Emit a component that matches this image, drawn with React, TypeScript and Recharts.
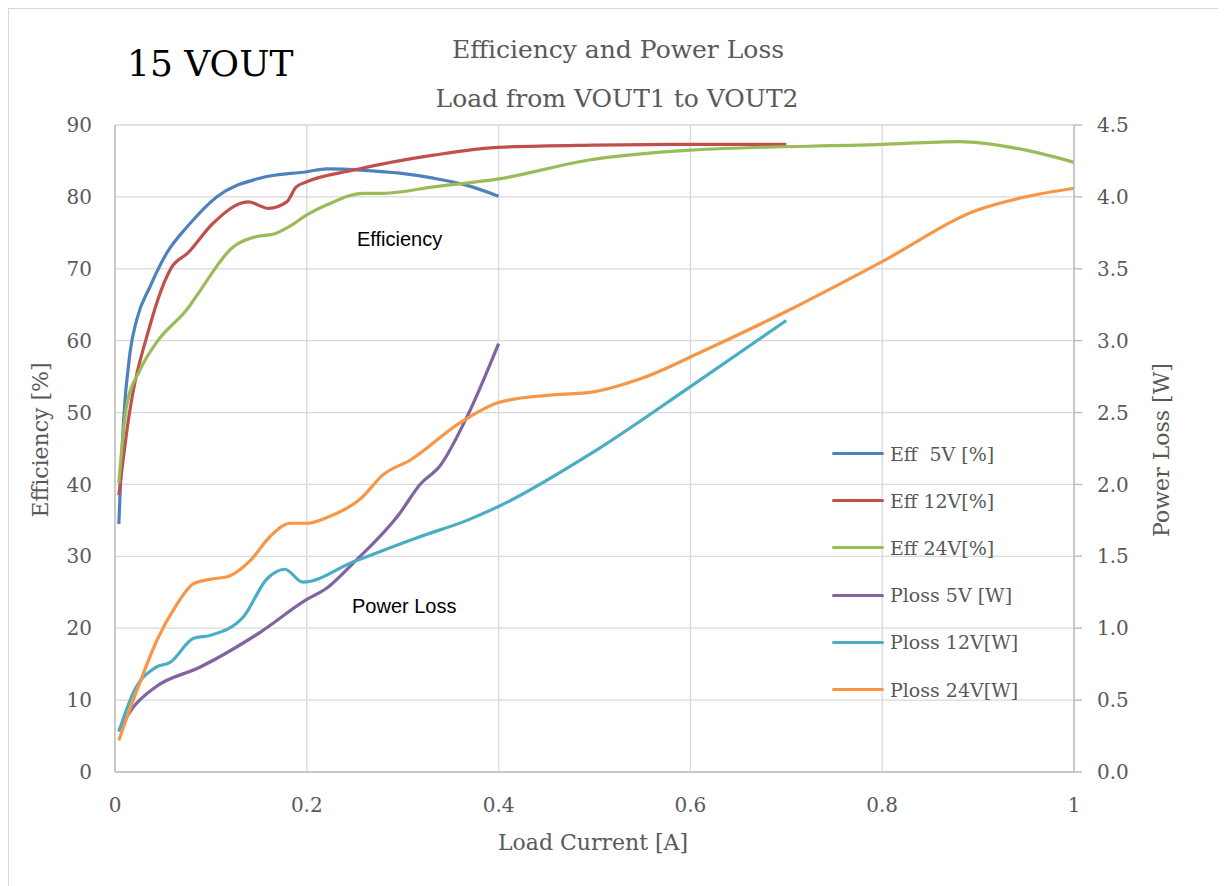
import React from 'react';
import {
  LineChart,
  Line,
  XAxis,
  YAxis,
  CartesianGrid,
} from 'recharts';

// ---------------------------------------------------------------------------
// Data
// ---------------------------------------------------------------------------

const currentTicks = [0, 0.2, 0.4, 0.6, 0.8, 1];
const effTicks = [0, 10, 20, 30, 40, 50, 60, 70, 80, 90];
const lossTicks = [0, 0.5, 1, 1.5, 2, 2.5, 3, 3.5, 4, 4.5];

const eff5Current = [0.004, 0.009, 0.0156, 0.0226, 0.0365, 0.054, 0.075, 0.106, 0.151, 0.2, 0.221, 0.26, 0.297, 0.332, 0.367, 0.4];
const eff5Values = [34.5, 49, 58.3, 62.9, 67.5, 72.2, 75.8, 80, 82.6, 83.5, 83.9, 83.7, 83.3, 82.6, 81.6, 80.1];

const eff12Current = [0.004, 0.014, 0.036, 0.059, 0.076, 0.102, 0.139, 0.16, 0.179, 0.189, 0.2, 0.248, 0.332, 0.4, 0.5, 0.6, 0.7];
const eff12Values = [38.5, 49, 61.9, 70.2, 72.2, 76.3, 79.3, 78.4, 79.3, 81.4, 82.1, 83.7, 85.8, 86.9, 87.2, 87.3, 87.3];

const eff24Current = [0.004, 0.012, 0.026, 0.043, 0.076, 0.089, 0.122, 0.148, 0.165, 0.182, 0.2, 0.221, 0.259, 0.28, 0.332, 0.4, 0.493, 0.6, 0.8, 0.88, 0.95, 1.0];
const eff24Values = [40.2, 50.8, 55.9, 59.7, 64.5, 67, 72.9, 74.5, 74.8, 75.9, 77.5, 78.9, 80.5, 80.5, 81.4, 82.5, 85.1, 86.5, 87.3, 87.7, 86.5, 84.8];

const loss5Current = [0.004, 0.019, 0.042, 0.089, 0.151, 0.2, 0.221, 0.248, 0.297, 0.318, 0.339, 0.367, 0.4];
const loss5Values = [0.29, 0.45, 0.59, 0.73, 0.97, 1.2, 1.28, 1.45, 1.8, 2.0, 2.13, 2.47, 2.98];

const loss12Current = [0.004, 0.019, 0.043, 0.057, 0.082, 0.099, 0.134, 0.158, 0.177, 0.196, 0.248, 0.315, 0.367, 0.401, 0.5, 0.6, 0.7];
const loss12Values = [0.28, 0.55, 0.73, 0.76, 0.93, 0.95, 1.08, 1.34, 1.41, 1.32, 1.46, 1.63, 1.75, 1.85, 2.23, 2.68, 3.14];

const loss24Current = [0.004, 0.023, 0.044, 0.063, 0.082, 0.099, 0.118, 0.141, 0.162, 0.183, 0.2, 0.221, 0.256, 0.28, 0.308, 0.36, 0.4, 0.45, 0.495, 0.55, 0.614, 0.702, 0.8, 0.9, 0.949, 1.0];
const loss24Values = [0.22, 0.57, 0.92, 1.15, 1.31, 1.34, 1.36, 1.47, 1.64, 1.73, 1.73, 1.77, 1.9, 2.07, 2.17, 2.43, 2.57, 2.62, 2.64, 2.74, 2.93, 3.21, 3.55, 3.91, 4.0, 4.06];

const zip = (xs: number[], ys: number[]) => xs.map((x, i) => ({ x, y: ys[i] }));

const SERIES = [
  { name: 'Eff  5V [%]', axis: 'eff', color: '#4F81BD', data: zip(eff5Current, eff5Values) },
  { name: 'Eff 12V[%]', axis: 'eff', color: '#C0504D', data: zip(eff12Current, eff12Values) },
  { name: 'Eff 24V[%]', axis: 'eff', color: '#9BBB59', data: zip(eff24Current, eff24Values) },
  { name: 'Ploss 5V [W]', axis: 'loss', color: '#8064A2', data: zip(loss5Current, loss5Values) },
  { name: 'Ploss 12V[W]', axis: 'loss', color: '#4BACC6', data: zip(loss12Current, loss12Values) },
  { name: 'Ploss 24V[W]', axis: 'loss', color: '#F79646', data: zip(loss24Current, loss24Values) },
];

const W = 1218;
const H = 878;
const SERIF = '"DejaVu Serif", serif';
const SANS = '"Liberation Sans", Arial, sans-serif';
const GREY = '#595959';
const tickStyle = { fontFamily: SERIF, fontSize: 20, fill: GREY };

// ---------------------------------------------------------------------------
// Legend (kept outside the chart so it takes no room from the plot)
// ---------------------------------------------------------------------------

const LegendList: React.FC = () => (
  <div style={{ position: 'absolute', left: 824, top: 422 }}>
    {SERIES.map(s => (
      <div key={s.name} style={{ height: 47.2, display: 'flex', alignItems: 'center' }}>
        <div style={{ width: 52, height: 3, background: s.color, borderRadius: 2 }} />
        <span
          style={{
            marginLeft: 6,
            fontFamily: SERIF,
            fontSize: 19,
            color: GREY,
            whiteSpace: 'pre',
          }}
        >
          {s.name}
        </span>
      </div>
    ))}
  </div>
);

// ---------------------------------------------------------------------------
// Main component
// ---------------------------------------------------------------------------

export default function App() {
  return (
    <div style={{ position: 'relative', width: W, height: H, overflow: 'hidden' }}>
      <div
        style={{
          position: 'absolute',
          left: 0,
          top: 0,
          width: W + 20,
          height: H + 20,
          border: '1px solid #d9d9d9',
        }}
      />
      <div style={{ position: 'absolute', left: 0, top: 0 }}>
        <LineChart width={W} height={H} margin={{ top: 117, right: 0, bottom: 54, left: 0 }}>
          <CartesianGrid stroke="#d9d9d9" yAxisId="eff" strokeWidth={1.3} />
          <XAxis
            dataKey="x"
            type="number"
            domain={[0, 1]}
            ticks={currentTicks}
            height={60}
            tick={tickStyle}
            tickLine={false}
            tickSize={0}
            tickMargin={26}
            axisLine={{ stroke: '#bfbfbf', strokeWidth: 1.5 }}
            allowDuplicatedCategory={false}
          />
          <YAxis
            yAxisId="eff"
            orientation="left"
            type="number"
            domain={[0, 90]}
            ticks={effTicks}
            width={107}
            tick={tickStyle}
            tickLine={false}
            tickSize={0}
            tickMargin={23}
            axisLine={{ stroke: '#bfbfbf', strokeWidth: 1.5 }}
          />
          <YAxis
            yAxisId="loss"
            orientation="right"
            type="number"
            domain={[0, 4.5]}
            ticks={lossTicks}
            width={152}
            tick={{ ...tickStyle, textAnchor: 'start' }}
            tickFormatter={(v: number) => v.toFixed(1)}
            tickLine={{ stroke: '#bfbfbf', strokeWidth: 1.5 }}
            tickSize={8}
            tickMargin={15}
            axisLine={{ stroke: '#bfbfbf', strokeWidth: 1.5 }}
          />
          {SERIES.map(s => (
            <Line
              key={s.name}
              name={s.name}
              data={s.data}
              dataKey="y"
              yAxisId={s.axis}
              type="monotone"
              stroke={s.color}
              strokeWidth={3.2}
              dot={false}
              activeDot={false}
              isAnimationActive={false}
            />
          ))}
        </LineChart>
      </div>
      <LegendList />
      <svg
        width={W}
        height={H}
        style={{ position: 'absolute', left: 0, top: 0, pointerEvents: 'none' }}
      >
        <text x={119} y={68} fontFamily={SERIF} fontSize={36} fill="#000">
          15 VOUT
        </text>
        <text x={610} y={50} textAnchor="middle" fontFamily={SERIF} fontSize={25} fill={GREY}>
          Efficiency and Power Loss
        </text>
        <text x={609} y={99} textAnchor="middle" fontFamily={SERIF} fontSize={25} fill={GREY}>
          Load from VOUT1 to VOUT2
        </text>
        <text x={585} y={842} textAnchor="middle" fontFamily={SERIF} fontSize={22} fill={GREY}>
          Load Current [A]
        </text>
        <text
          x={32}
          y={432}
          textAnchor="middle"
          dominantBaseline="central"
          transform="rotate(-90 32 432)"
          fontFamily={SERIF}
          fontSize={22}
          fill={GREY}
        >
          Efficiency [%]
        </text>
        <text
          x={1153}
          y={442}
          textAnchor="middle"
          dominantBaseline="central"
          transform="rotate(-90 1153 442)"
          fontFamily={SERIF}
          fontSize={22}
          fill={GREY}
        >
          Power Loss [W]
        </text>
        <text x={349} y={238} fontFamily={SANS} fontSize={20} fill="#000">
          Efficiency
        </text>
        <text x={344} y={605} fontFamily={SANS} fontSize={20} fill="#000">
          Power Loss
        </text>
      </svg>
    </div>
  );
}
